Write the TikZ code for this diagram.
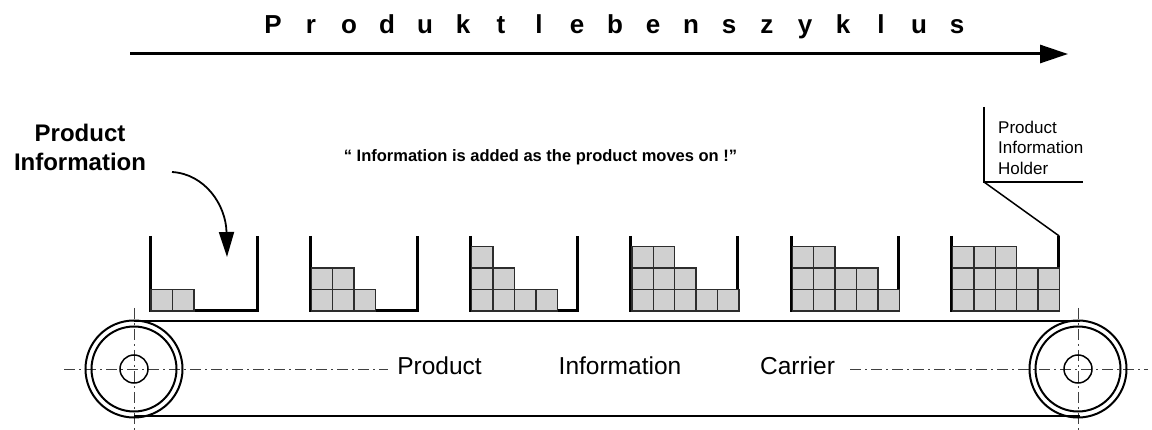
\documentclass[tikz,border=0pt]{standalone}
\usepackage{fontspec}
\setmainfont{Liberation Sans}
\usetikzlibrary{arrows.meta}
\newcommand\tltr[1]{\makebox[38pt]{#1}}
\definecolor{boxfill}{RGB}{208,208,208}
\definecolor{boxline}{RGB}{45,45,45}
\begin{document}
\begin{tikzpicture}[x=1pt,y=-1pt,
  wall/.style={line width=3pt},
  infobox/.style={draw=boxline,fill=boxfill,line width=1.4pt},
  axisline/.style={line width=0.9pt,black!75,dash pattern=on 11pt off 4pt on 2pt off 4pt},
  belt/.style={line width=2pt},
  thinline/.style={line width=1.5pt},
  lbl/.style={inner sep=0pt,font=\fontsize{24.5}{29}\selectfont},
  title/.style={inner sep=0pt,font=\fontsize{26}{30}\bfseries\selectfont},
  biglbl/.style={inner sep=0pt,align=center,font=\fontsize{24}{29}\bfseries\selectfont},
  quote/.style={inner sep=0pt,font=\fontsize{16.5}{20}\bfseries\selectfont},
  small/.style={inner sep=0pt,align=left,font=\fontsize{17}{20.5}\selectfont}]
\useasboundingbox (0,0) rectangle (1152,430);

% title and life-cycle arrow
\node[title,anchor=base] (ttl) at (615,33.5)
 {\tltr{P}\tltr{r}\tltr{o}\tltr{d}\tltr{u}\tltr{k}\tltr{t}\tltr{l}\tltr{e}\tltr{b}\tltr{e}\tltr{n}\tltr{s}\tltr{z}\tltr{y}\tltr{k}\tltr{l}\tltr{u}\tltr{s}};
\coordinate (lcstart) at (130,54);
\coordinate (lcend) at (1068,54);
\draw[line width=3pt,-{Triangle[length=28pt,width=18pt]}] (lcstart) -- (lcend);

% labels
\node[biglbl] (pinfo) at (80,147) {Product\\Information};
\node[quote,anchor=base] (qt) at (540.5,162) {“ Information is added as the product moves on !”};
\node[small,anchor=north west] (holder) at (998,120.5) {Product\\Information\\Holder};

% center lines
\draw[axisline] (64,369) -- (388,369);
\draw[axisline] (850,369) -- (1148,369);
\draw[axisline] (134,308) -- (134,430);
\draw[axisline] (1078,308) -- (1078,430);

% belt and rollers
\draw[belt] (134,321.5) -- (1080,321.5);
\draw[belt] (134,416) -- (1080,416);
\foreach \cx in {134,1078}{
  \draw[belt] (\cx,369) circle[radius=48.5pt];
  \draw[belt] (\cx,369) circle[radius=42.5pt];
  \draw[thinline] (\cx,369) circle[radius=14pt];
}
\node[lbl,anchor=base] (lp) at (439.5,375) {Product};
\node[lbl,anchor=base] (li) at (620,375) {Information};
\node[lbl,anchor=base] (lc) at (797.5,375) {Carrier};

% bins with information blocks
\def\sq{21.4}
\foreach \i/\ra/\rb/\rc in {0/2/0/0,1/3/2/0,2/4/2/1,3/5/3/2,4/5/4/2,5/5/5/3}{
  \pgfmathsetmacro\bx{150+160.3*\i}
  \draw[wall] (\bx,236) -- (\bx,311) -- (\bx+107,311) -- (\bx+107,236);
  \foreach \r/\n in {0/\ra,1/\rb,2/\rc}{
    \ifnum\n>0
      \foreach \k in {1,...,\n}{
        \draw[infobox] (\bx+1+\sq*\k-\sq,311-\sq*\r) rectangle ++(\sq,-\sq);
      }
    \fi
  }
}

% holder callout
\coordinate (htop) at (984,107);
\coordinate (hcorner) at (984,182);
\coordinate (hright) at (1083,182);
\coordinate (binsix) at (1059.2,236);
\draw[thinline] (htop) -- (hcorner) -- (hright);
\draw[thinline] (hcorner) -- (binsix);

% information input arrow
\coordinate (arrowstart) at (172,172);
\coordinate (drop) at (227,257);
\draw[line width=1.8pt,-{Triangle[length=25pt,width=15pt]}] (arrowstart) .. controls (205,174) and (226,205) .. (drop);
\end{tikzpicture}
\end{document}
